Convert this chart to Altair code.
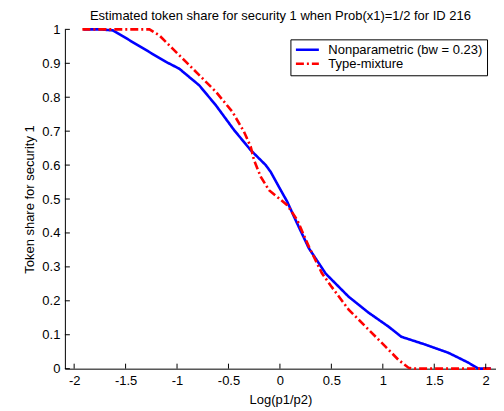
import altair as alt
import pandas as pd

# Nonparametric (bw = 0.23)
np_x = [-1.91, -1.75, -1.623, -1.462, -1.268, -1.106, -0.978, -0.784, -0.622, -0.445,
        -0.284, -0.138, -0.09, -0.01, 0.071, 0.152, 0.281, 0.445, 0.668, 0.862,
        1.055, 1.18, 1.413, 1.636, 1.83, 1.93, 2.05]
np_y = [1.0, 1.0, 0.997, 0.968, 0.933, 0.904, 0.884, 0.835, 0.776, 0.703,
        0.644, 0.6, 0.58, 0.536, 0.492, 0.438, 0.355, 0.28, 0.212, 0.165,
        0.124, 0.094, 0.071, 0.047, 0.018, 0.0, 0.0]

# Type-mixture
tm_x = [-1.92, -1.268, -1.171, -1.043, -0.913, -0.784, -0.622, -0.462, -0.349, -0.284,
        -0.252, -0.187, -0.106, -0.01, 0.071, 0.168, 0.281, 0.407, 0.503, 0.668,
        0.862, 1.026, 1.152, 1.249, 1.3, 2.05]
tm_y = [1.0, 1.0, 0.982, 0.943, 0.904, 0.865, 0.816, 0.757, 0.698, 0.654,
        0.615, 0.566, 0.526, 0.502, 0.482, 0.438, 0.36, 0.282, 0.241, 0.174,
        0.115, 0.065, 0.026, 0.003, 0.0, 0.0]

series_names = ["Nonparametric (bw = 0.23)", "Type-mixture"]
x_ticks = [-2, -1.5, -1, -0.5, 0, 0.5, 1, 1.5, 2]
y_ticks = [0, 0.1, 0.2, 0.3, 0.4, 0.5, 0.6, 0.7, 0.8, 0.9, 1]

rows = []
for i, (xv, yv) in enumerate(zip(np_x, np_y)):
    rows.append({"x": xv, "y": yv, "s": series_names[0], "o": i})
for i, (xv, yv) in enumerate(zip(tm_x, tm_y)):
    rows.append({"x": xv, "y": yv, "s": series_names[1], "o": i})
df = pd.DataFrame(rows)

W, H = 432, 340
FONT = "Liberation Sans"
FS = 13
xscale = alt.Scale(domain=[-2.09, 2.1], nice=False, zero=False)
yscale = alt.Scale(domain=[0, 1], nice=False, zero=False)
LBL = "'' + datum.value"

xaxis = alt.Axis(values=x_ticks, tickSize=0, labelPadding=6, grid=False, labelExpr=LBL,
                 domainColor="black", labelColor="black", titleColor="black",
                 labelFont=FONT, titleFont=FONT, labelFontSize=FS, titleFontSize=FS,
                 titleFontWeight="normal", titlePadding=6, labelFlush=False)
yaxis = alt.Axis(values=y_ticks, tickSize=0, labelPadding=5, grid=False, labelExpr=LBL,
                 domainColor="black", labelColor="black", titleColor="black",
                 labelFont=FONT, titleFont=FONT, labelFontSize=FS, titleFontSize=FS,
                 titleFontWeight="normal", titlePadding=5, labelFlush=False)
XT = "Log(p1/p2)"
YT = "Token share for security 1"

lines = alt.Chart(df).mark_line(strokeWidth=2.6, strokeCap="butt").encode(
    x=alt.X("x:Q", scale=xscale, title=XT, axis=xaxis),
    y=alt.Y("y:Q", scale=yscale, title=YT, axis=yaxis),
    color=alt.Color("s:N", scale=alt.Scale(domain=series_names, range=["#0000ff", "#ff0000"]),
                    title=None,
                    legend=alt.Legend(orient="none", legendX=226, legendY=10,
                                      strokeColor="black", fillColor="white",
                                      padding=4, symbolType="stroke", symbolSize=529,
                                      symbolStrokeWidth=2.6, labelFont=FONT,
                                      labelFontSize=FS, labelColor="black",
                                      clipHeight=13, rowPadding=0,
                                      labelOffset=8, labelLimit=300)),
    strokeDash=alt.StrokeDash("s:N", scale=alt.Scale(domain=series_names,
                                                     range=[[1, 0], [8, 3, 2, 3]]),
                              title=None, legend=None),
    order="o:Q",
    detail="s:N",
)

xt = pd.DataFrame({"x": x_ticks})
yt = pd.DataFrame({"y": y_ticks})
xtick_layer = alt.Chart(xt).mark_rule(color="black", strokeWidth=1).encode(
    x=alt.X("x:Q", scale=xscale, title=XT, axis=xaxis),
    y=alt.value(H), y2=alt.value(H - 5))
ytick_layer = alt.Chart(yt).mark_rule(color="black", strokeWidth=1).encode(
    y=alt.Y("y:Q", scale=yscale, title=YT, axis=yaxis),
    x=alt.value(0), x2=alt.value(5))

chart = alt.layer(lines, xtick_layer, ytick_layer).properties(
    width=W, height=H,
    title=alt.TitleParams("Estimated token share for security 1 when Prob(x1)=1/2 for ID 216",
                          font=FONT, fontSize=FS, fontWeight="normal", color="black",
                          anchor="middle", offset=0),
    padding={"left": 57, "top": 21, "right": 0, "bottom": 40},
    autosize=alt.AutoSizeParams(type="none"),
).configure_view(stroke=None)

chart.save("out.html", embed_options={"renderer": "svg", "actions": False})
